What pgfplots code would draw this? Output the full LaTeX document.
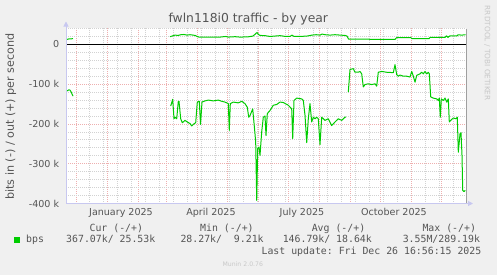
\documentclass[border=0pt]{standalone}
\usepackage{pgfplots}
\pgfplotsset{compat=1.18}
\usepackage{fontspec}
\setmainfont{DejaVu Sans}
\newfontfamily\monofont{DejaVu Sans Mono}
\usetikzlibrary{arrows.meta}
\definecolor{bgc}{RGB}{240,240,240}
\definecolor{mingrid}{RGB}{210,210,210}
\definecolor{majgrid}{RGB}{238,175,175}
\definecolor{axc}{RGB}{200,200,240}
\definecolor{txt}{RGB}{85,85,85}
\definecolor{mgreen}{RGB}{0,204,0}
\definecolor{wm}{RGB}{200,200,200}
\tikzset{gline/.style={mgreen, line width=1bp, mark=none, line join=round}}
\begin{document}
\begin{tikzpicture}[x=1bp,y=1bp]
\fill[bgc] (0,0) rectangle (497,275);
\useasboundingbox (0,0) rectangle (497,275);
\begin{axis}[
  at={(66bp,71.5bp)}, anchor=south west,
  scale only axis, width=400bp, height=175bp,
  xmin=0, xmax=400, ymin=-400, ymax=40,
  axis background/.style={fill=white},
  axis line style={draw=none},
  xtick={10,41,72,100,131,161,192,222,253,284,314,345,375},
  xticklabels={},
  minor xtick={23,37,...,400},
  ytick={-400,-300,-200,-100,0},
  yticklabels={-400 k,-300 k,-200 k,-100 k,0},
  minor ytick={-380,-360,...,40},
  grid=both,
  major grid style={majgrid, dash pattern=on 1bp off 1bp, line width=0.8bp},
  minor grid style={mingrid, dash pattern=on 1bp off 1bp, line width=0.8bp},
  major tick length=0pt, minor tick length=0pt,
  yticklabel style={font=\fontsize{9.6}{10}\selectfont, color=txt, anchor=east, inner sep=0pt, xshift=-6.7bp},
  extra x ticks={55,145,236,328},
  extra x tick labels={January 2025,April 2025,July 2025,October 2025},
  extra x tick style={grid=none, xticklabel style={font=\fontsize{9.6}{10}\selectfont, color=txt, anchor=base, inner sep=0pt, yshift=-11.8bp}},
  extra y ticks={0},
  extra y tick labels={},
  extra y tick style={grid=major, major grid style={black, solid, line width=1.2bp}},
]
% out (+) series
\addplot[gline] coordinates {(1,12.5) (3,14) (5,14) (7,14.5)};
\addplot[gline] coordinates {
(104,19.4) (106,21) (109,23.4) (112,22.6) (115,24.4) (118,25) (121,23.4) (124,24.4) (127,23.4) (129,22.6)
(131,20.1) (133,18.4) (137,18.4) (144,18.4) (154,18.4) (160,20) (162,18.4) (169,19.4) (174,18.4) (182,19)
(187,21) (190,27.6) (191,30) (192.5,25) (194,22.6) (199,22) (204,20) (209,21) (214,22) (217,21) (219,20)
(224,20) (226,23.4) (228,20) (234,20) (241,21) (246,23.4) (250,24.4) (254,23.4) (256,26) (259,24.4)
(264,23.4) (269,24.4) (274,23.4) (279,22.6) (281,21) (282.5,13.3) (294,13.3) (314,12.6) (329,12.6)
(330.5,16.8) (345,16.8) (346,14.3) (363,14.3) (364,17.6) (379,17.6) (380.5,21.4) (382,17.6) (383,20)
(384,21.4) (391,21.4) (392,24) (396,23.4) (399.5,24.4)};
% in (-) series
\addplot[gline] coordinates {(1,-117) (3,-114) (4,-115) (5,-119) (7,-130)};
\addplot[gline] coordinates {
(104.7,-155) (106.7,-138) (108,-187) (109,-183) (110.7,-187) (112.3,-143) (113,-143) (114.7,-187)
(116.3,-197) (119,-191) (121.3,-195) (124,-199) (125.7,-205) (128.3,-199) (129.7,-197) (131.3,-145)
(133.3,-143) (134.5,-201) (136,-145) (139,-142) (142.3,-140) (147.3,-142) (152.3,-140) (155.7,-143)
(159,-145) (162.3,-149) (163.3,-216) (164.3,-149) (167.3,-145) (172.3,-147) (175.7,-143) (179,-149)
(181.3,-158) (182.7,-183) (184,-179) (186.7,-162) (189,-225) (189.7,-246) (190.7,-392) (191.7,-262)
(193,-258) (194,-279) (195.7,-220) (197.3,-183) (199,-180) (200,-229) (201.3,-174) (204,-166)
(207.3,-153) (210.7,-151) (214,-145) (217.3,-146) (222.3,-153) (225.7,-162) (226.7,-237) (228,-141)
(230.7,-135) (235.7,-137) (237.3,-141) (239,-178) (240.7,-247) (242.3,-187) (244,-149) (245.7,-195)
(247.3,-183) (249,-187) (250.7,-183) (252.3,-187) (254,-252) (255.7,-183) (259,-191) (262.3,-187)
(265.7,-204) (269,-195) (272.3,-187) (275.7,-191) (279,-183) (280,-183)};
\addplot[gline] coordinates {
(282.3,-120) (284,-63) (287.3,-61) (289,-70) (292.3,-70) (294,-68) (295.7,-74) (297.3,-107) (299,-101)
(302.3,-99) (305.7,-101) (309,-99) (310.7,-105) (312.3,-70) (315.7,-68) (320.7,-70) (327.3,-71)
(329,-51) (330.7,-76) (332.3,-80) (334,-77) (337.3,-80) (340.7,-80) (344,-82) (345.7,-68) (347.3,-80)
(349,-95) (350.7,-78) (352.3,-76) (354,-74) (355.7,-70) (357.3,-74) (359,-68) (360.7,-74) (362.3,-70)
(363.3,-74) (364.7,-132) (367.3,-135) (370.7,-137) (372.3,-141) (373.3,-135) (374.3,-183) (375.3,-137)
(377.3,-141) (379,-135) (380.7,-145) (382.3,-137) (383.3,-195) (384.7,-191) (387.3,-185) (390,-187)
(391.3,-183) (392.3,-271) (394,-225) (395,-222) (396,-279) (396.7,-367) (398,-370) (399.3,-367)};
\end{axis}
% axes decorations
\draw[gray!75, line width=1bp] (466,71.5) -- (466,246.5);
\draw[axc, line width=1bp, -{Triangle[length=5bp,width=5bp]}] (66,71.5) -- (66,253.5);
\draw[axc, line width=1bp, -{Triangle[length=5bp,width=5bp]}] (66,71.5) -- (473,71.5);
% title and labels
\node[anchor=base, font=\fontsize{12.4}{14}\selectfont, color=txt, inner sep=0pt] at (248.3,253) {fwln118i0 traffic - by year};
\node[rotate=90, font=\fontsize{11.2}{12}\selectfont, color=txt, inner sep=0pt] at (10.8,158.5) {bits in (-) / out (+) per second};
\node[rotate=-90, font=\fontsize{7.4}{8}\selectfont, color=wm, inner sep=0pt] at (487.3,221.7) {RRDTOOL / TOBI OETIKER};
% legend
\fill[mgreen] (14,32) rectangle (20,38);
\begin{scope}[every node/.style={anchor=base west, inner sep=0pt, color=txt, font=\monofont\fontsize{9.9}{11}\selectfont}]
\node at (89.4,43.5) {Cur (-/+)};
\node at (200,43.5) {Min (-/+)};
\node at (311.6,43.5) {Avg (-/+)};
\node at (422.3,43.5) {Max (-/+)};
\node at (26,32.5) {bps};
\node at (66,32.5) {367.07k/~25.53k};
\node at (180.3,32.5) {28.27k/~~9.21k};
\node at (282.6,32.5) {146.79k/~18.64k};
\node at (402.6,32.5) {3.55M/289.19k};
\node at (261.4,21) {Last update:~Fri Dec 26 16:56:15 2025};
\end{scope}
\node[anchor=base, font=\fontsize{6.2}{7}\selectfont, color=wm, inner sep=0pt] at (242.8,8.3) {Munin 2.0.76};
\end{tikzpicture}
\end{document}
